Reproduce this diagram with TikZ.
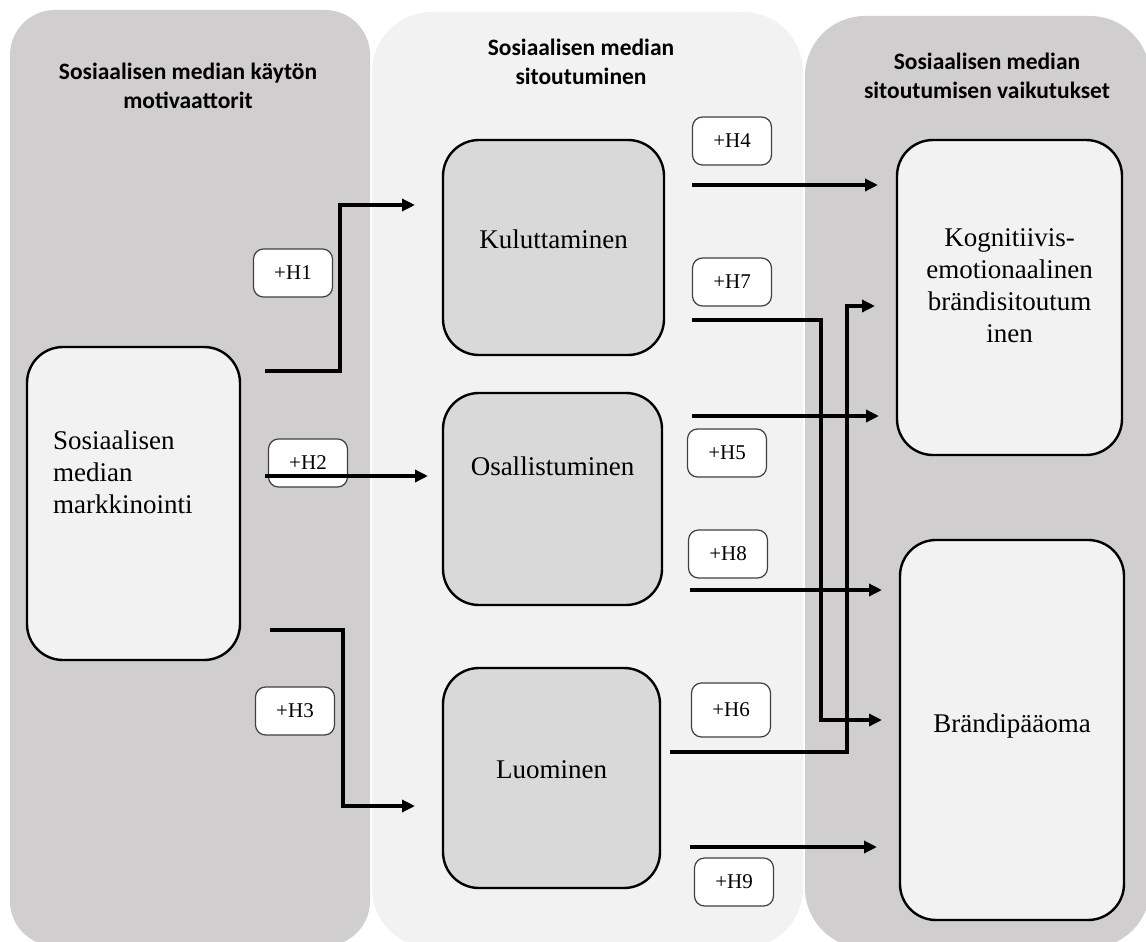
\documentclass[tikz,border=0pt]{standalone}
\usepackage{fontspec}
\setmainfont{Liberation Serif}
\newfontfamily\headfont{Carlito}
\usetikzlibrary{arrows.meta,calc}
\definecolor{panelDark}{HTML}{D0CECE}
\definecolor{panelLight}{HTML}{F2F2F2}
\definecolor{boxMid}{HTML}{D9D9D9}
\definecolor{tagEdge}{HTML}{404040}
\tikzset{
  head/.style={font=\headfont\bfseries\fontsize{23.5}{29}\selectfont, align=center},
  mainbox/.style={draw=black, line width=2.4pt, rounded corners=36pt, inner sep=0pt},
  boxtext/.style={font=\fontsize{27}{32}\selectfont, align=center, inner sep=0pt},
  tag/.style={draw=tagEdge, line width=1.2pt, fill=white, rounded corners=10pt,
    minimum width=79pt, minimum height=48pt, inner sep=0pt, font=\fontsize{21}{24}\selectfont},
  flow/.style={line width=3.8pt, -{Triangle[length=13pt,width=12pt]}},
}
\begin{document}
\begin{tikzpicture}[x=1pt,y=-1pt]
    \useasboundingbox (0,0) rectangle (1146,942);
    %% background panels
    \fill[panelDark, rounded corners=45pt] (10,10) rectangle (370,946);
    \fill[panelLight, rounded corners=60pt] (372,12) rectangle (803,948);
    \fill[panelDark, rounded corners=60pt] (805,16) rectangle (1150,948);
    \node[head] (headL) at (188,86) {Sosiaalisen median käytön\\motivaattorit};
    \node[head] (headM) at (581,62) {Sosiaalisen median\\sitoutuminen};
    \node[head] (headR) at (987,76) {Sosiaalisen median\\sitoutumisen vaikutukset};
    %% boxes
    \node[mainbox, fill=panelLight, minimum width=213pt, minimum height=313pt] (smm) at (133.5,503.5) {};
    \node[boxtext, anchor=west, align=left] (smmT) at (53,472) {Sosiaalisen\\median\\markkinointi};
    \node[mainbox, fill=boxMid, minimum width=221pt, minimum height=215pt] (kul) at (553.5,247.5) {};
    \node[boxtext] (kulT) at ([yshift=8pt]kul.center) {Kuluttaminen};
    \node[mainbox, fill=boxMid, minimum width=219pt, minimum height=212pt] (osa) at (552.5,499) {};
    \node[boxtext] (osaT) at ([yshift=33pt]osa.center) {Osallistuminen};
    \node[mainbox, fill=boxMid, minimum width=217pt, minimum height=220pt] (luo) at (551.5,778) {};
    \node[boxtext] (luoT) at ([yshift=8pt]luo.center) {Luominen};
    \node[mainbox, fill=panelLight, minimum width=225pt, minimum height=315pt] (kog) at (1009.5,297.5) {};
    \node[boxtext] (kogT) at ([yshift=12pt]kog.center) {Kognitiivis-\\emotionaalinen\\brändisitoutum\\inen};
    \node[mainbox, fill=panelLight, minimum width=224pt, minimum height=380pt] (bpo) at (1012,730) {};
    \node[boxtext] (bpoT) at ([yshift=4pt]bpo.center) {Brändipääoma};
    %% hypothesis tags
    \node[tag] (h1) at (293,273) {+H1};
    \node[tag] (h2) at (308,463) {+H2};
    \node[tag] (h3) at (295,711) {+H3};
    \node[tag] (h4) at (732,141) {+H4};
    \node[tag] (h7) at (732,282) {+H7};
    \node[tag] (h5) at (727,453) {+H5};
    \node[tag] (h8) at (728,554) {+H8};
    \node[tag, minimum height=54pt] (h6) at (731,710) {+H6};
    \node[tag] (h9) at (734,882) {+H9};
    %% arrow ends
    \coordinate (a1) at (265,371); \coordinate (b1) at (415,205);
    \coordinate (a2) at (265,476); \coordinate (b2) at (428,476);
    \coordinate (a3) at (270,630); \coordinate (b3) at (415,806);
    \coordinate (a4) at (692,185); \coordinate (b4) at (878,185);
    \coordinate (a7) at (692,320); \coordinate (b7) at (882,720);
    \coordinate (a6) at (670,752); \coordinate (b6) at (875,306);
    \coordinate (a5) at (692,416); \coordinate (b5) at (879,416);
    \coordinate (a8) at (690,590); \coordinate (b8) at (882,590);
    \coordinate (a9) at (690,847); \coordinate (b9) at (877,847);
    %% arrows
    \draw[flow] (a1) -| (340,205) -- (b1);
    \draw[flow] (a2) -- (b2);
    \draw[flow] (a3) -| (343,806) -- (b3);
    \draw[flow] (a4) -- (b4);
    \draw[flow] (a7) -| (821,720) -- (b7);
    \draw[flow] (a6) -| (847,306) -- (b6);
    \draw[flow] (a5) -- (b5);
    \draw[flow] (a8) -- (b8);
    \draw[flow] (a9) -- (b9);
\end{tikzpicture}
\end{document}
